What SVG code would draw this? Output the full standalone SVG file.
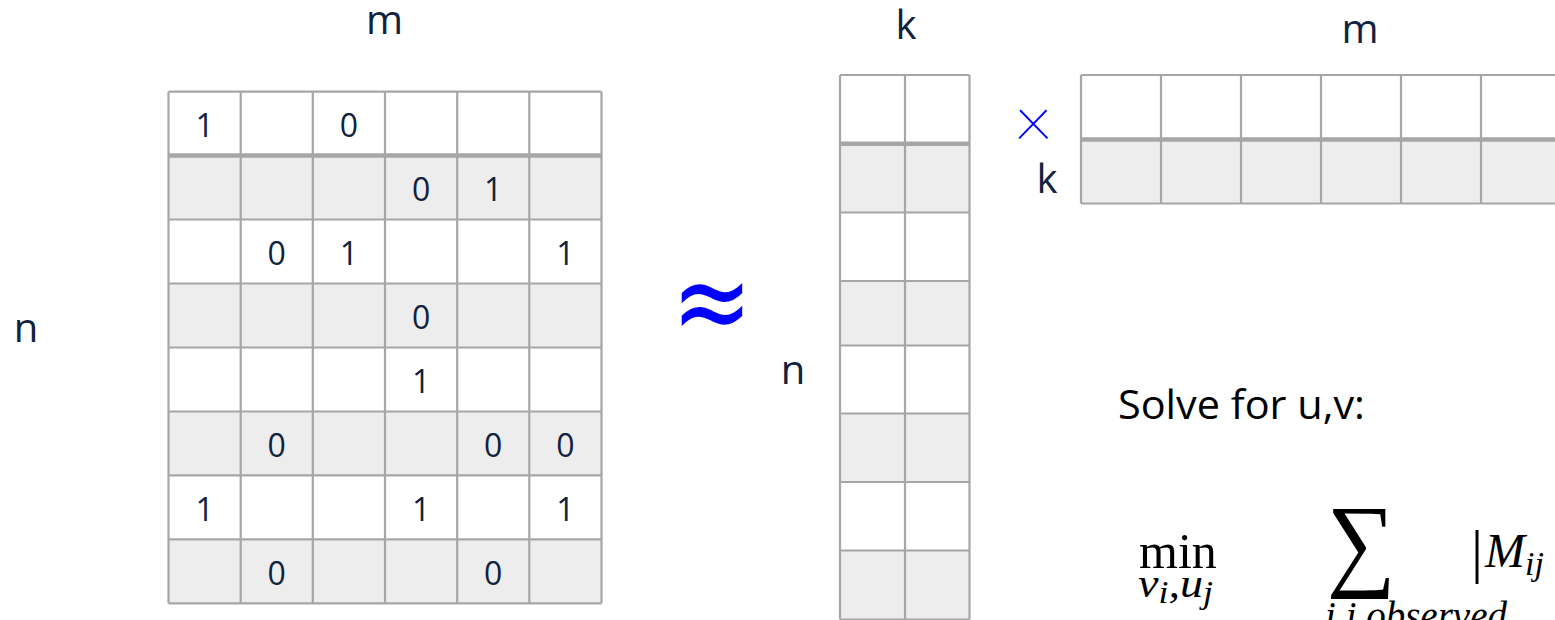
<svg xmlns="http://www.w3.org/2000/svg" width="1555" height="620" viewBox="0 0 1555 620">
<style>
.lbl{font-family:"Open Sans","Noto Sans",sans-serif;font-size:40px;fill:#0f2341;text-anchor:middle}
.dig{font-family:"Open Sans","Noto Sans",sans-serif;font-size:32px;fill:#0f2341;text-anchor:middle}
.w{fill:#ffffff}
.g{fill:#ededed}
.ln{stroke:#a6a6a6;stroke-width:2.2;fill:none}
.thick{stroke:#a6a6a6;stroke-width:4.5;fill:none}
.sym{fill:#0000ff}
.math{font-family:"Liberation Serif","DejaVu Serif",serif;fill:#000000}
</style>
<rect width="1555" height="620" fill="#ffffff"/>

<g id="labels">
<text class="lbl" x="384.5" y="34">m</text>
<text class="lbl" x="26" y="342">n</text>
<text class="lbl" x="906" y="39">k</text>
<text class="lbl" x="793" y="384">n</text>
<text class="lbl" x="1047" y="193">k</text>
<text class="lbl" x="1360" y="43">m</text>
</g>

<g id="matrix-M">
<rect class="w" x="168.5" y="91.7" width="433" height="63.9"/>
<rect class="g" x="168.5" y="155.6" width="433" height="63.9"/>
<rect class="w" x="168.5" y="219.5" width="433" height="64"/>
<rect class="g" x="168.5" y="283.5" width="433" height="64"/>
<rect class="w" x="168.5" y="347.5" width="433" height="64"/>
<rect class="g" x="168.5" y="411.5" width="433" height="63.9"/>
<rect class="w" x="168.5" y="475.4" width="433" height="63.9"/>
<rect class="g" x="168.5" y="539.3" width="433" height="64"/>
<path class="ln" d="M168.5 91.7V603.3M240.7 91.7V603.3M312.8 91.7V603.3M385 91.7V603.3M457.2 91.7V603.3M529.3 91.7V603.3M601.5 91.7V603.3M168.5 91.7H601.5M168.5 219.5H601.5M168.5 283.5H601.5M168.5 347.5H601.5M168.5 411.5H601.5M168.5 475.4H601.5M168.5 539.3H601.5M168.5 603.3H601.5"/>
<path class="thick" d="M168.5 155.6H601.5"/>
<text class="dig" x="204.6" y="137">1</text>
<text class="dig" x="348.9" y="137">0</text>
<text class="dig" x="421.1" y="201">0</text>
<text class="dig" x="493.2" y="201">1</text>
<text class="dig" x="276.7" y="265">0</text>
<text class="dig" x="348.9" y="265">1</text>
<text class="dig" x="565.4" y="265">1</text>
<text class="dig" x="421.1" y="329">0</text>
<text class="dig" x="421.1" y="393">1</text>
<text class="dig" x="276.7" y="457">0</text>
<text class="dig" x="493.2" y="457">0</text>
<text class="dig" x="565.4" y="457">0</text>
<text class="dig" x="204.6" y="521">1</text>
<text class="dig" x="421.1" y="521">1</text>
<text class="dig" x="565.4" y="521">1</text>
<text class="dig" x="276.7" y="585">0</text>
<text class="dig" x="493.2" y="585">0</text>
</g>

<g id="approx">
<text class="sym" transform="translate(712 342) scale(1.05 1.3)" x="0" y="0" font-family="DejaVu Sans, sans-serif" font-size="92" text-anchor="middle">≈</text>
</g>

<g id="matrix-V">
<rect class="w" x="840" y="75" width="129.5" height="68.5"/>
<rect class="g" x="840" y="143.5" width="129.5" height="69"/>
<rect class="w" x="840" y="212.5" width="129.5" height="68.5"/>
<rect class="g" x="840" y="281" width="129.5" height="64.5"/>
<rect class="w" x="840" y="345.5" width="129.5" height="68"/>
<rect class="g" x="840" y="413.5" width="129.5" height="68.5"/>
<rect class="w" x="840" y="482" width="129.5" height="68.5"/>
<rect class="g" x="840" y="550.5" width="129.5" height="69"/>
<path class="ln" d="M840 75V619.5M905 75V619.5M969.5 75V619.5M840 75H969.5M840 212.5H969.5M840 281H969.5M840 345.5H969.5M840 413.5H969.5M840 482H969.5M840 550.5H969.5M840 619.5H969.5"/>
<path class="thick" d="M840 143.8H969.5"/>
</g>

<g id="times">
<text class="sym" x="1033.5" y="139" font-family="Roboto, sans-serif" font-weight="100" font-size="72" text-anchor="middle">×</text>
</g>

<g id="matrix-U">
<rect class="w" x="1081" y="75" width="480" height="64.5"/>
<rect class="g" x="1081" y="139.5" width="480" height="64"/>
<path class="ln" d="M1081 75V203.5M1161 75V203.5M1241 75V203.5M1321 75V203.5M1401 75V203.5M1481 75V203.5M1081 75H1561M1081 203.5H1561"/>
<path class="thick" d="M1081 139.5H1561"/>
</g>

<g id="solve">
<text x="1118" y="419" font-family="Open Sans, Noto Sans, sans-serif" font-size="40" fill="#000000" textLength="247" lengthAdjust="spacingAndGlyphs">Solve for u,v:</text>
</g>

<g id="formula">
<text class="math" x="1139" y="568" font-size="50">min</text>
<text class="math" x="1138" y="597" font-size="40" font-style="italic" textLength="75" lengthAdjust="spacingAndGlyphs">v<tspan font-size="31" dy="6">i</tspan><tspan dy="-6">,u</tspan><tspan font-size="31" dy="6">j</tspan></text>
<text class="math" transform="translate(1361 577) scale(0.93 1)" x="0" y="0" font-size="104" text-anchor="middle">∑</text>
<text class="math" x="1325" y="629" font-size="39" font-style="italic">i,j observed</text>
<text class="math" x="1471" y="571" font-size="60">|</text>
<text class="math" x="1485" y="567" font-size="48" font-style="italic">M<tspan font-size="34" dy="8">ij</tspan></text>
</g>
</svg>
